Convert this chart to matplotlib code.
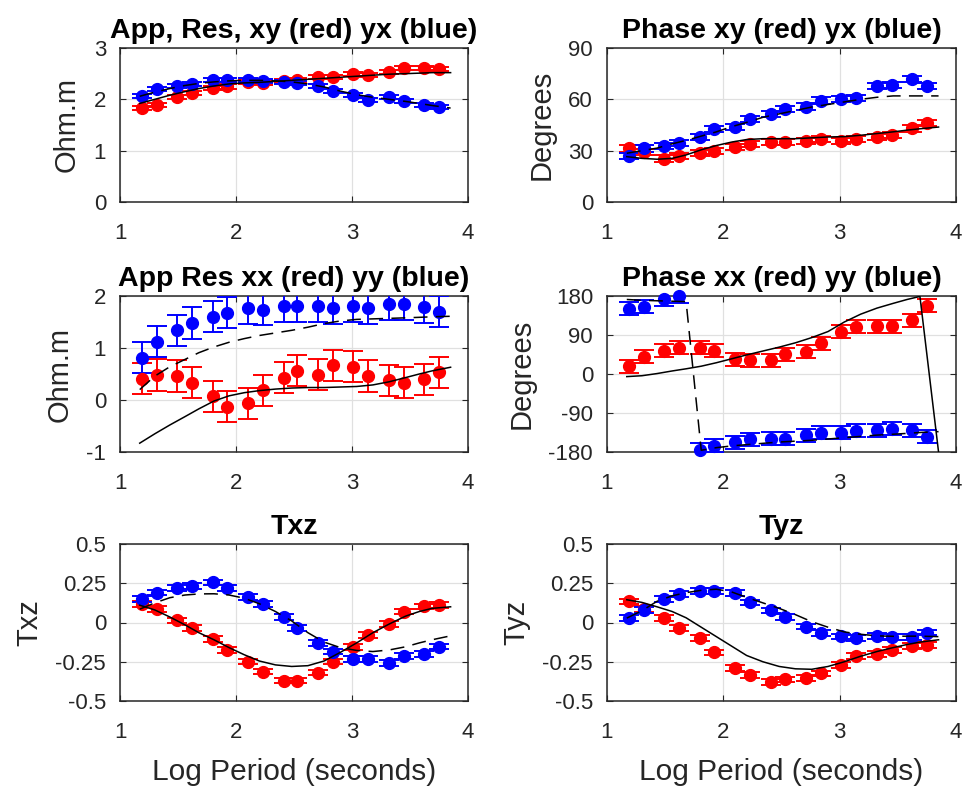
import numpy as np
import matplotlib
matplotlib.use("Agg")
import matplotlib.pyplot as plt

plt.rcParams['font.family'] = ['Liberation Sans', 'DejaVu Sans']
plt.rcParams['lines.scale_dashes'] = False

# Log10 of the observation periods (seconds)
period = [1.19, 1.32, 1.49, 1.62, 1.80, 1.92, 2.10, 2.23, 2.41, 2.53,
          2.71, 2.84, 3.01, 3.14, 3.32, 3.45, 3.62, 3.75]

# Observed apparent resistivity (log10 ohm.m)
rho_xy = [1.83, 1.89, 2.04, 2.12, 2.22, 2.25, 2.33, 2.32, 2.36, 2.38,
          2.43, 2.43, 2.49, 2.48, 2.54, 2.61, 2.61, 2.59]
rho_yx = [2.07, 2.20, 2.26, 2.30, 2.37, 2.37, 2.37, 2.35, 2.34, 2.32,
          2.26, 2.17, 2.09, 1.99, 2.04, 1.96, 1.89, 1.85]
rho_xx = [0.41, 0.48, 0.46, 0.33, 0.07, -0.13, -0.06, 0.19, 0.43, 0.56,
          0.49, 0.67, 0.64, 0.46, 0.38, 0.33, 0.40, 0.53]
rho_yy = [0.81, 1.12, 1.34, 1.48, 1.60, 1.68, 1.76, 1.74, 1.80, 1.80,
          1.80, 1.77, 1.80, 1.77, 1.84, 1.84, 1.79, 1.70]

# Observed phases (degrees)
phs_xy = [31.3, 29.4, 25.4, 26.8, 28.4, 29.9, 32.3, 33.7, 35.2, 35.0,
          35.8, 36.8, 35.6, 36.6, 38.2, 39.1, 43.0, 46.0]
phs_yx = [26.8, 31.3, 32.7, 34.6, 37.8, 42.5, 44.0, 48.3, 51.5, 54.2,
          55.8, 59.3, 60.1, 61.0, 67.9, 68.3, 71.8, 67.9]
phs_xx = [18, 40, 53.5, 61, 61, 53.5, 33.5, 32, 32, 46,
          51, 70.5, 97.6, 109, 110.6, 110.6, 124.5, 157]
phs_yy = [151, 155, 172, 179, -175, -165, -157, -151, -149, -149,
          -141, -136, -136, -131, -130, -126, -130, -145]

# Observed tipper components (real in red, imaginary in blue)
txz_re = [0.117, 0.085, 0.013, -0.036, -0.106, -0.174, -0.249, -0.313, -0.37, -0.37,
          -0.319, -0.249, -0.157, -0.079, -0.011, 0.07, 0.102, 0.113]
txz_im = [0.149, 0.191, 0.219, 0.234, 0.255, 0.219, 0.162, 0.117, 0.034, -0.036,
          -0.132, -0.185, -0.234, -0.234, -0.26, -0.213, -0.2, -0.153]
tyz_re = [0.134, 0.085, 0.028, -0.036, -0.10, -0.19, -0.29, -0.336, -0.377, -0.362,
          -0.355, -0.324, -0.27, -0.213, -0.20, -0.174, -0.15, -0.145]
tyz_im = [0.028, 0.081, 0.149, 0.183, 0.202, 0.202, 0.187, 0.128, 0.077, 0.034,
          -0.026, -0.068, -0.089, -0.10, -0.085, -0.094, -0.094, -0.064]

# Data uncertainties
err_rho_diag = [0.04] * 18
err_phs_diag = [1.8] * 18
err_rho_off = [0.3] * 18
err_phs_off = [15] * 18
err_tip = [0.018] * 18

# Model response periods
model_period = [1.17, 1.30, 1.43, 1.56, 1.68, 1.81, 1.94, 2.07, 2.20, 2.34, 2.48,
                2.62, 2.76, 2.90, 3.04, 3.18, 3.32, 3.46, 3.58, 3.69, 3.85]

mod_rho_xy = [1.92, 2.00, 2.08, 2.15, 2.21, 2.26, 2.30, 2.32, 2.33, 2.35, 2.37,
              2.39, 2.41, 2.43, 2.45, 2.47, 2.49, 2.50, 2.51, 2.52, 2.52]
mod_rho_yx = [2.06, 2.14, 2.21, 2.27, 2.31, 2.34, 2.36, 2.37, 2.37, 2.36, 2.34,
              2.30, 2.24, 2.16, 2.09, 2.04, 2.00, 1.96, 1.92, 1.88, 1.83]
mod_phs_xy = [26.5, 25.5, 25.0, 25.5, 27.5, 30.5, 33.0, 35.0, 36.5, 37.0, 37.0,
              37.0, 37.5, 38.0, 38.2, 39.0, 40.0, 41.0, 42.0, 42.8, 43.8]
mod_phs_yx = [28.5, 30.0, 31.5, 34.0, 36.0, 38.5, 41.0, 44.0, 46.5, 49.5, 51.5,
              53.5, 55.5, 57.0, 58.5, 60.0, 61.2, 62.0, 62.0, 62.0, 62.0]
mod_rho_xx = [-0.83, -0.65, -0.48, -0.32, -0.17, -0.02, 0.08, 0.14, 0.18, 0.21, 0.23,
              0.24, 0.24, 0.25, 0.26, 0.29, 0.35, 0.43, 0.50, 0.56, 0.63]
mod_rho_yy = [0.20, 0.46, 0.64, 0.78, 0.91, 1.02, 1.11, 1.18, 1.24, 1.29, 1.34,
              1.40, 1.47, 1.52, 1.55, 1.56, 1.57, 1.58, 1.59, 1.60, 1.61]
mod_phs_xx = [-6, -4, 1, 7, 12, 18, 26, 35, 44, 53, 62,
              72, 84, 98, 120, 138, 152, 163, 172, 179, -180]
mod_phs_yy = [172, 170, 169, 168, 167, -176, -170, -166, -163, -160, -157,
              -155, -153, -150, -147, -144, -141, -139, -137, -135, -133]
mod_txz_re = [0.11, 0.08, 0.035, -0.015, -0.065, -0.11, -0.16, -0.205, -0.245, -0.27, -0.28,
              -0.275, -0.245, -0.19, -0.13, -0.065, -0.01, 0.04, 0.07, 0.09, 0.10]
mod_txz_im = [0.085, 0.125, 0.158, 0.175, 0.182, 0.183, 0.175, 0.155, 0.12, 0.07, 0.01,
              -0.065, -0.125, -0.16, -0.178, -0.185, -0.175, -0.155, -0.13, -0.11, -0.085]
mod_tyz_re = [0.145, 0.128, 0.10, 0.07, 0.03, -0.03, -0.09, -0.15, -0.21, -0.25, -0.28,
              -0.295, -0.298, -0.28, -0.25, -0.215, -0.185, -0.16, -0.14, -0.125, -0.11]
mod_tyz_im = [0.028, 0.075, 0.135, 0.17, 0.19, 0.205, 0.212, 0.195, 0.16, 0.125, 0.09,
              0.05, 0.005, -0.03, -0.06, -0.075, -0.085, -0.088, -0.087, -0.087, -0.09]

TEXT = '#262626'
W, H = 967, 796
fig = plt.figure(figsize=(W / 100, H / 100), dpi=100)


def make_axes(left, top, right, bottom):
    return fig.add_axes([left / W, 1 - bottom / H, (right - left) / W, (bottom - top) / H])


def style(ax, title, ylabel, ylim, yticks, xlabel=None):
    ax.set_xlim(1, 4)
    ax.set_xticks([1, 2, 3, 4])
    ax.set_ylim(*ylim)
    ax.set_yticks(yticks)
    ax.set_yticklabels([('%g' % t) for t in yticks])
    ax.grid(True, color='#e0e0e0', linewidth=0.9)
    ax.set_axisbelow(True)
    for sp in ax.spines.values():
        sp.set_color(TEXT)
        sp.set_linewidth(1.1)
    ax.tick_params(direction='in', length=4, width=0.8, colors=TEXT,
                   labelsize=16, top=True, right=True, pad=10)
    ax.tick_params(axis='x', pad=15)
    ax.set_title(title, fontsize=20.5, fontweight='bold', color='black', pad=7)
    ax.set_ylabel(ylabel, fontsize=21, color=TEXT, labelpad=9)
    if xlabel:
        ax.set_xlabel(xlabel, fontsize=21.5, color=TEXT, labelpad=11)


def data(ax, y, err, color):
    ax.errorbar(period, y, yerr=err, fmt='none', ecolor=color, elinewidth=1.4,
                capsize=7, capthick=1.4, zorder=3)
    ax.plot(period, y, 'o', color=color, markersize=8.5, clip_on=False, zorder=4)


def model(ax, y, dashed=False):
    line, = ax.plot(model_period, y, color='black', linewidth=1.1, zorder=5)
    if dashed:
        line.set_dashes((10, 6))


axes = [
    make_axes(120, 48, 468, 202), make_axes(607, 48, 956, 202),
    make_axes(120, 296, 468, 452), make_axes(607, 296, 956, 452),
    make_axes(120, 544, 468, 701), make_axes(607, 544, 956, 701),
]

ax = axes[0]
data(ax, rho_xy, err_rho_diag, 'red')
data(ax, rho_yx, err_rho_diag, 'blue')
model(ax, mod_rho_xy)
model(ax, mod_rho_yx, dashed=True)
style(ax, 'App, Res, xy (red) yx (blue)', 'Ohm.m', (0, 3), [0, 1, 2, 3])

ax = axes[1]
data(ax, phs_xy, err_phs_diag, 'red')
data(ax, phs_yx, err_phs_diag, 'blue')
model(ax, mod_phs_xy)
model(ax, mod_phs_yx, dashed=True)
style(ax, 'Phase xy (red) yx (blue)', 'Degrees', (0, 90), [0, 30, 60, 90])

ax = axes[2]
data(ax, rho_xx, err_rho_off, 'red')
data(ax, rho_yy, err_rho_off, 'blue')
model(ax, mod_rho_xx)
model(ax, mod_rho_yy, dashed=True)
style(ax, 'App Res xx (red) yy (blue)', 'Ohm.m', (-1, 2), [-1, 0, 1, 2])

ax = axes[3]
data(ax, phs_xx, err_phs_off, 'red')
data(ax, phs_yy, err_phs_off, 'blue')
model(ax, mod_phs_xx)
model(ax, mod_phs_yy, dashed=True)
style(ax, 'Phase xx (red) yy (blue)', 'Degrees', (-180, 180), [-180, -90, 0, 90, 180])

ax = axes[4]
data(ax, txz_re, err_tip, 'red')
data(ax, txz_im, err_tip, 'blue')
model(ax, mod_txz_re)
model(ax, mod_txz_im, dashed=True)
style(ax, 'Txz', 'Txz', (-0.5, 0.5), [-0.5, -0.25, 0, 0.25, 0.5],
      xlabel='Log Period (seconds)')

ax = axes[5]
data(ax, tyz_re, err_tip, 'red')
data(ax, tyz_im, err_tip, 'blue')
model(ax, mod_tyz_re)
model(ax, mod_tyz_im, dashed=True)
style(ax, 'Tyz', 'Tyz', (-0.5, 0.5), [-0.5, -0.25, 0, 0.25, 0.5],
      xlabel='Log Period (seconds)')

fig.savefig('out.png', dpi=100, facecolor='white')
